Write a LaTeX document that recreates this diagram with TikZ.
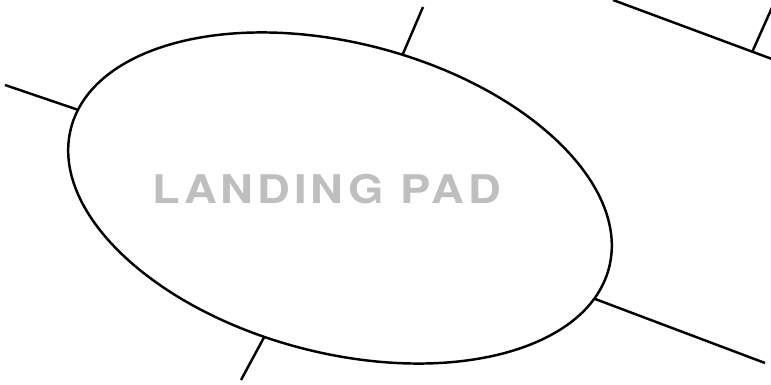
\documentclass[tikz,border=0pt]{standalone}
\usepackage{fontspec}
\newfontfamily\padfont[LetterSpace=8.6]{TeX Gyre Heros}
\usetikzlibrary{shapes.geometric}

\begin{document}
\begin{tikzpicture}[x=0.02cm, y=-0.02cm, line width=1.4pt,
  pad/.style={draw, ellipse, minimum width=11.12cm, minimum height=6.2cm, inner sep=0pt, outer sep=0pt, rotate=-14.6},
  padtext/.style={text=black!25, inner sep=0pt, xscale=1.15, font=\padfont\bfseries\fontsize{22.5}{27}\selectfont}]
  \useasboundingbox (0,0) rectangle (771,385);
  \clip (0,0) rectangle (771,385);

  \node [pad] (pad) at (340,198) {};
  \node [padtext] (title) at (326.5,189) {LANDING PAD};

  \coordinate (westend) at (5,85);
  \coordinate (northend) at (423,7);
  \coordinate (eastend) at (765,363);
  \coordinate (southend) at (241,380);
  \coordinate (farstart) at (613,0);
  \coordinate (farend) at (790,65.7);
  \coordinate (farfoot) at (752.3,51.7);
  \coordinate (fartop) at (780,-10.3);

  \draw (pad.176) -- (westend);
  \draw (pad.81) -- (northend);
  \draw (pad.353) -- (eastend);
  \draw (pad.256) -- (southend);
  \draw (farstart) -- (farend);
  \draw (farfoot) -- (fartop);
\end{tikzpicture}
\end{document}
